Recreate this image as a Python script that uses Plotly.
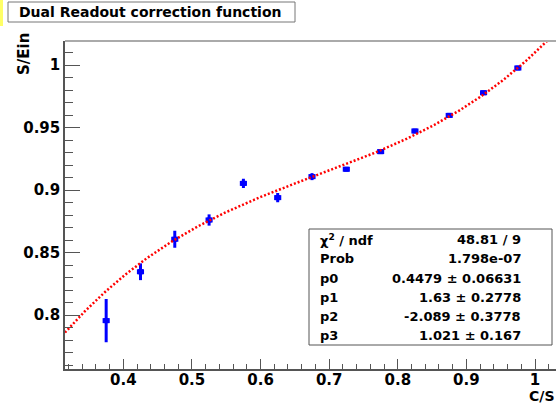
import numpy as np
import plotly.graph_objects as go

# ---- data ----
cs_values = [0.375, 0.425, 0.475, 0.525, 0.575, 0.625, 0.675, 0.725, 0.775, 0.825, 0.875, 0.925, 0.975]
s_ein_values = [0.7955, 0.8346, 0.8606, 0.8760, 0.9053, 0.8939, 0.9107, 0.9166, 0.9307, 0.9472, 0.9597, 0.9778, 0.9976]
s_ein_errors = [0.0173, 0.0067, 0.0068, 0.0045, 0.0037, 0.0037, 0.0028, 0.0015, 0.0015, 0.0015, 0.0015, 0.0015, 0.0015]

# fit parameters (pol3) shown in the stats box
fit_params = [0.4479, 1.63, -2.089, 1.021]
fit_param_errors = [0.06631, 0.2778, 0.3778, 0.167]
stat_labels = ["χ<sup>2</sup> / ndf", "Prob", "p0", "p1", "p2", "p3"]
stat_values = ["48.81 / 9", "1.798e-07",
               "0.4479 ± 0.06631", "1.63 ± 0.2778", "-2.089 ± 0.3778", "1.021 ± 0.167"]

x_tick_vals = [0.4, 0.5, 0.6, 0.7, 0.8, 0.9, 1.0]
x_tick_text = ["0.4", "0.5", "0.6", "0.7", "0.8", "0.9", "1"]
y_tick_vals = [0.8, 0.85, 0.9, 0.95, 1.0]
y_tick_text = ["0.8", "0.85", "0.9", "0.95", "1"]

title_text = "Dual Readout correction function"
x_title = "C/S"
y_title = "S/Ein"

x_range = [0.315, 1.0306]
y_range = [0.7568, 1.0192]

W, H = 556, 404
ML, MR, MT, MB = 65, 0, 41, 35
PW, PH = W - ML - MR, H - MT - MB

def px_x(p):
    return (p - ML) / PW

def px_y(p):
    return (H - MB - p) / PH

fx = np.linspace(x_range[0], x_range[1], 400)
fy = sum(c * fx ** i for i, c in enumerate(fit_params))

FONT = "DejaVu Sans"

fig = go.Figure()
fig.add_trace(go.Scatter(
    x=cs_values, y=s_ein_values, mode="markers",
    marker=dict(symbol="square", size=5, color="#0000ff"),
    error_y=dict(type="data", array=s_ein_errors, visible=True, color="#0000ff", thickness=3, width=0),
    error_x=dict(type="constant", value=0.0052, visible=True, color="#0000ff", thickness=5, width=0),
    showlegend=False, hoverinfo="x+y"))
fig.add_trace(go.Scatter(
    x=fx, y=fy, mode="lines",
    line=dict(color="#ff0000", width=2.5, dash="2px,2px"),
    showlegend=False, hoverinfo="skip"))

axis_font = dict(family=FONT, size=15, color="#000000", weight="bold")

fig.update_xaxes(
    range=x_range, showgrid=False, zeroline=False, automargin=False,
    showline=True, linecolor="#555555", linewidth=1.5,
    ticks="inside", ticklen=10, tickcolor="#555555", tickwidth=1,
    tickmode="array", tickvals=x_tick_vals, ticktext=x_tick_text, tickangle=0, tickfont=axis_font,
    ticklabelstandoff=-4,
    minor=dict(ticks="inside", ticklen=5, dtick=0.02, tick0=0, tickcolor="#555555", tickwidth=1, showgrid=False))
fig.update_yaxes(
    range=y_range, showgrid=False, zeroline=False, automargin=False,
    showline=True, linecolor="#555555", linewidth=1.5,
    ticks="inside", ticklen=15, tickcolor="#555555", tickwidth=1,
    tickmode="array", tickvals=y_tick_vals, ticktext=y_tick_text, tickfont=axis_font,
    minor=dict(ticks="inside", ticklen=8, dtick=0.01, tick0=0, tickcolor="#555555", tickwidth=1, showgrid=False))

shapes = []
annotations = []

# top frame line
shapes.append(dict(type="line", xref="paper", yref="paper", x0=0, x1=1, y0=1, y1=1,
                   line=dict(color="#aaaaaa", width=2)))
# yellow strip at the left edge
shapes.append(dict(type="rect", xref="paper", yref="paper",
                   x0=px_x(0), x1=px_x(3), y0=px_y(26), y1=px_y(0),
                   fillcolor="#ffff66", line=dict(width=0), layer="above"))
# title box
shapes.append(dict(type="rect", xref="paper", yref="paper",
                   x0=px_x(8), x1=px_x(295), y0=px_y(22), y1=px_y(2),
                   fillcolor="#ffffff", line=dict(color="#777777", width=1), layer="above"))
annotations.append(dict(text=title_text, xref="paper", yref="paper",
                        x=px_x(17), y=px_y(12), xanchor="left", yanchor="middle", showarrow=False,
                        font=dict(family=FONT, size=14, color="#000000", weight="bold")))
# stats box
shapes.append(dict(type="rect", xref="paper", yref="paper",
                   x0=px_x(309), x1=px_x(552), y0=px_y(345), y1=px_y(229),
                   fillcolor="#ffffff", line=dict(color="#555555", width=1), layer="above"))
row_y = [239.6, 258.8, 278.0, 297.2, 316.4, 335.6]
stat_font = dict(family=FONT, size=13, color="#000000", weight="bold")
for lab, val, yy in zip(stat_labels, stat_values, row_y):
    annotations.append(dict(text=lab, xref="paper", yref="paper", x=px_x(318), y=px_y(yy),
                            xanchor="left", yanchor="middle", showarrow=False, font=stat_font))
    annotations.append(dict(text=val, xref="paper", yref="paper", x=px_x(523), y=px_y(yy),
                            xanchor="right", yanchor="middle", showarrow=False, font=stat_font))
# axis titles
annotations.append(dict(text=x_title, xref="paper", yref="paper", x=px_x(556), y=px_y(396),
                        xanchor="right", yanchor="middle", showarrow=False,
                        font=dict(family=FONT, size=14, color="#000000", weight="bold")))
annotations.append(dict(text=y_title, xref="paper", yref="paper", x=px_x(24), y=px_y(54),
                        xanchor="center", yanchor="middle", showarrow=False, textangle=-90,
                        font=dict(family=FONT, size=15, color="#000000", weight="bold")))

fig.update_layout(
    width=W, height=H, autosize=False,
    margin=dict(l=ML, r=MR, t=MT, b=MB, pad=0),
    paper_bgcolor="#ffffff", plot_bgcolor="#ffffff",
    shapes=shapes, annotations=annotations)

fig.write_html("out.html")
